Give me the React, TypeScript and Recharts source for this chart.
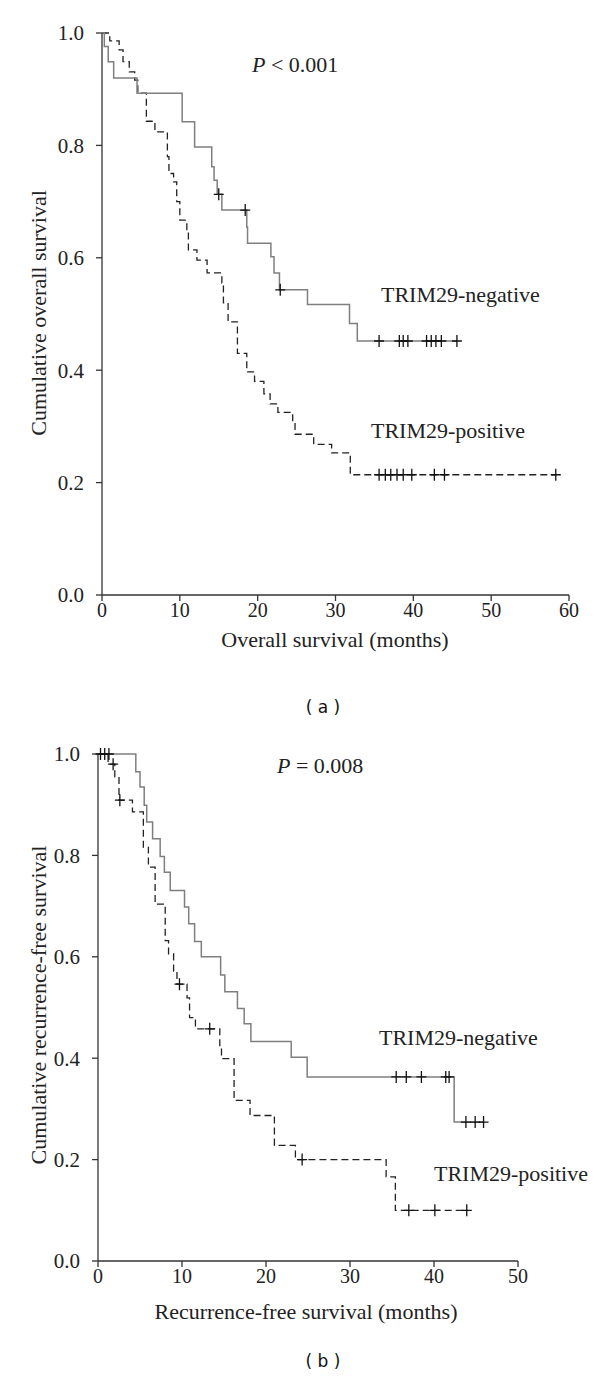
import React from "react";
import { ComposedChart, Line, Scatter, XAxis, YAxis } from "recharts";

// Overall survival, TRIM29-negative (event times in months, survival after the event)
const osNegTimes = [0, 0.3, 0.8, 1.5, 4.5, 10.3, 11.9, 14.1, 14.4, 14.8, 15.4, 18.6, 18.7, 21.7, 22.1, 22.8, 26.4, 31.8, 32.8];
const osNegSurv = [1, 0.976, 0.949, 0.92, 0.893, 0.842, 0.797, 0.762, 0.738, 0.713, 0.685, 0.655, 0.626, 0.602, 0.573, 0.543, 0.517, 0.483, 0.452];
const osNegCensored = [15.0, 18.4, 22.9, 35.6, 38.2, 38.7, 39.3, 41.7, 42.3, 42.9, 43.6, 45.6];

// Overall survival, TRIM29-positive
const osPosTimes = [0, 1.0, 2.2, 2.7, 3.5, 4.2, 4.6, 5.7, 6.8, 8.4, 8.6, 9.2, 9.6, 10.0, 10.9, 11.1, 12.2, 13.5, 15.4, 15.6, 16.2, 17.4, 18.6, 19.6, 20.8, 21.6, 22.6, 24.5, 24.8, 27.2, 29.5, 31.9];
const osPosSurv = [1, 0.986, 0.97, 0.949, 0.931, 0.916, 0.893, 0.843, 0.824, 0.78, 0.75, 0.735, 0.7, 0.667, 0.65, 0.614, 0.596, 0.573, 0.555, 0.52, 0.486, 0.43, 0.397, 0.38, 0.358, 0.34, 0.325, 0.305, 0.286, 0.268, 0.253, 0.214];
const osPosCensored = [35.6, 36.4, 37.1, 37.9, 38.7, 39.8, 42.7, 44.0, 58.3];

// Recurrence-free survival, TRIM29-negative
const rfsNegTimes = [0, 4.5, 5.0, 5.5, 5.8, 6.5, 7.4, 7.9, 8.6, 10.3, 10.8, 11.5, 12.3, 14.6, 15.1, 16.6, 17.4, 18.2, 23.0, 24.9, 42.4];
const rfsNegSurv = [1, 0.965, 0.935, 0.899, 0.866, 0.833, 0.798, 0.767, 0.731, 0.698, 0.665, 0.63, 0.6, 0.564, 0.531, 0.498, 0.468, 0.433, 0.402, 0.363, 0.274];
const rfsNegCensored = [0.3, 1.3, 35.5, 36.7, 38.5, 41.4, 41.8, 43.8, 44.9, 45.9];

// Recurrence-free survival, TRIM29-positive
const rfsPosTimes = [0, 1.2, 2.0, 2.5, 4.1, 5.4, 6.0, 6.8, 8.0, 8.4, 9.0, 9.4, 10.6, 10.9, 11.6, 14.5, 14.7, 16.2, 18.1, 21.0, 23.5, 34.3, 35.4];
const rfsPosSurv = [1, 0.98, 0.955, 0.909, 0.886, 0.816, 0.777, 0.704, 0.632, 0.606, 0.572, 0.546, 0.519, 0.48, 0.458, 0.425, 0.399, 0.317, 0.287, 0.228, 0.2, 0.166, 0.1];
const rfsPosCensored = [0.8, 1.8, 2.6, 9.7, 13.3, 24.3, 37.0, 40.1, 43.9];

const yTicks = [0, 0.2, 0.4, 0.6, 0.8, 1.0];
const osTicks = [0, 10, 20, 30, 40, 50, 60];
const rfsTicks = [0, 10, 20, 30, 40, 50];

const SERIF = "'Liberation Serif', 'Times New Roman', serif";
const SANS = "'DejaVu Sans', Verdana, sans-serif";
const AXIS = "#333";

type Pt = { t: number; s: number };

const survAt = (times: number[], surv: number[], t: number) => {
  let s = surv[0];
  times.forEach((tt, i) => {
    if (tt <= t) s = surv[i];
  });
  return s;
};

// step curve that runs on to the last censored case
const curve = (times: number[], surv: number[], cens: number[]): Pt[] => {
  const pts = times.map((t, i) => ({ t, s: surv[i] }));
  const end = Math.max(...cens);
  if (end > times[times.length - 1]) pts.push({ t: end, s: survAt(times, surv, end) });
  return pts;
};

const marks = (times: number[], surv: number[], cens: number[]): Pt[] =>
  cens.map((t) => ({ t, s: survAt(times, surv, t) }));

const Cross = (props: any) => {
  const { cx, cy } = props;
  if (cx == null || cy == null) return null;
  return (
    <path
      d={`M${cx - 5},${cy}H${cx + 5}M${cx},${cy - 6}V${cy + 6}`}
      stroke="#111"
      strokeWidth={1.3}
      fill="none"
    />
  );
};

interface KMProps {
  top: number;
  height: number;
  margin: { top: number; right: number; left: number; bottom: number };
  yWidth: number;
  xHeight: number;
  xMax: number;
  xTicks: number[];
  neg: Pt[];
  pos: Pt[];
  negMarks: Pt[];
  posMarks: Pt[];
  children?: React.ReactNode;
}

const KMChart: React.FC<KMProps> = ({
  top,
  height,
  margin,
  yWidth,
  xHeight,
  xMax,
  xTicks,
  neg,
  pos,
  negMarks,
  posMarks,
  children,
}) => (
  <div style={{ position: "absolute", left: 0, top, width: 600, height }}>
    <ComposedChart width={600} height={height} margin={margin}>
      <XAxis
        dataKey="t"
        type="number"
        domain={[0, xMax]}
        ticks={xTicks}
        interval={0}
        height={xHeight}
        stroke={AXIS}
        strokeWidth={1.3}
        tickSize={6}
        tickMargin={2}
        tick={{ fontFamily: SERIF, fontSize: 20, fill: "#222" }}
      />
      <YAxis
        dataKey="s"
        type="number"
        domain={[0, 1]}
        ticks={yTicks}
        interval={0}
        width={yWidth}
        stroke={AXIS}
        strokeWidth={1.3}
        tickSize={6}
        tickMargin={12}
        tickFormatter={(v: number) => v.toFixed(1)}
        tick={{ fontFamily: SERIF, fontSize: 21, fill: "#222" }}
      />
      <Line
        data={pos}
        dataKey="s"
        type="stepAfter"
        stroke="#222"
        strokeWidth={1.3}
        strokeDasharray="7 4"
        dot={false}
        activeDot={false}
        isAnimationActive={false}
      />
      <Line
        data={neg}
        dataKey="s"
        type="stepAfter"
        stroke="#7f7f7f"
        strokeWidth={1.5}
        dot={false}
        activeDot={false}
        isAnimationActive={false}
      />
      <Scatter data={negMarks} dataKey="s" shape={<Cross />} isAnimationActive={false} />
      <Scatter data={posMarks} dataKey="s" shape={<Cross />} isAnimationActive={false} />
      {children}
    </ComposedChart>
  </div>
);

const txt = { fontFamily: SERIF, fontSize: 22, fill: "#222" };

const caption: React.CSSProperties = {
  position: "absolute",
  left: 0,
  width: 646,
  textAlign: "center",
  fontFamily: SANS,
  fontSize: 17,
  color: "#111",
  lineHeight: "20px",
  whiteSpace: "pre",
};

export default function App() {
  return (
    <div
      style={{
        position: "absolute",
        left: 0,
        top: 0,
        width: 600,
        height: 1378,
        background: "#fff",
        overflow: "hidden",
      }}
    >
      <KMChart
        top={0}
        height={690}
        margin={{ top: 33, right: 31, left: 0, bottom: 0 }}
        yWidth={102}
        xHeight={95}
        xMax={60}
        xTicks={osTicks}
        neg={curve(osNegTimes, osNegSurv, osNegCensored)}
        pos={curve(osPosTimes, osPosSurv, osPosCensored)}
        negMarks={marks(osNegTimes, osNegSurv, osNegCensored)}
        posMarks={marks(osPosTimes, osPosSurv, osPosCensored)}
      >
        <text x={38} y={313} transform="rotate(-90 38 313)" textAnchor="middle" dominantBaseline="central" {...txt}>
          Cumulative overall survival
        </text>
        <text x={335} y={647} textAnchor="middle" {...txt}>
          Overall survival (months)
        </text>
        <text x={252} y={72} {...txt}>
          <tspan fontStyle="italic">P</tspan> &lt; 0.001
        </text>
        <text x={381} y={302} {...txt}>
          TRIM29-negative
        </text>
        <text x={371} y={438} {...txt}>
          TRIM29-positive
        </text>
      </KMChart>
      <KMChart
        top={700}
        height={678}
        margin={{ top: 54, right: 82, left: 0, bottom: 0 }}
        yWidth={98}
        xHeight={117}
        xMax={50}
        xTicks={rfsTicks}
        neg={curve(rfsNegTimes, rfsNegSurv, rfsNegCensored)}
        pos={curve(rfsPosTimes, rfsPosSurv, rfsPosCensored)}
        negMarks={marks(rfsNegTimes, rfsNegSurv, rfsNegCensored)}
        posMarks={marks(rfsPosTimes, rfsPosSurv, rfsPosCensored)}
      >
        <text x={38} y={305} transform="rotate(-90 38 305)" textAnchor="middle" dominantBaseline="central" {...txt}>
          Cumulative recurrence-free survival
        </text>
        <text x={306} y={619} textAnchor="middle" {...txt}>
          Recurrence-free survival (months)
        </text>
        <text x={277} y={73} {...txt}>
          <tspan fontStyle="italic">P</tspan> = 0.008
        </text>
        <text x={379} y={345} {...txt}>
          TRIM29-negative
        </text>
        <text x={434} y={481} {...txt}>
          TRIM29-positive
        </text>
      </KMChart>
      <div style={{ ...caption, top: 697 }}>( a )</div>
      <div style={{ ...caption, top: 1351 }}>( b )</div>
    </div>
  );
}
